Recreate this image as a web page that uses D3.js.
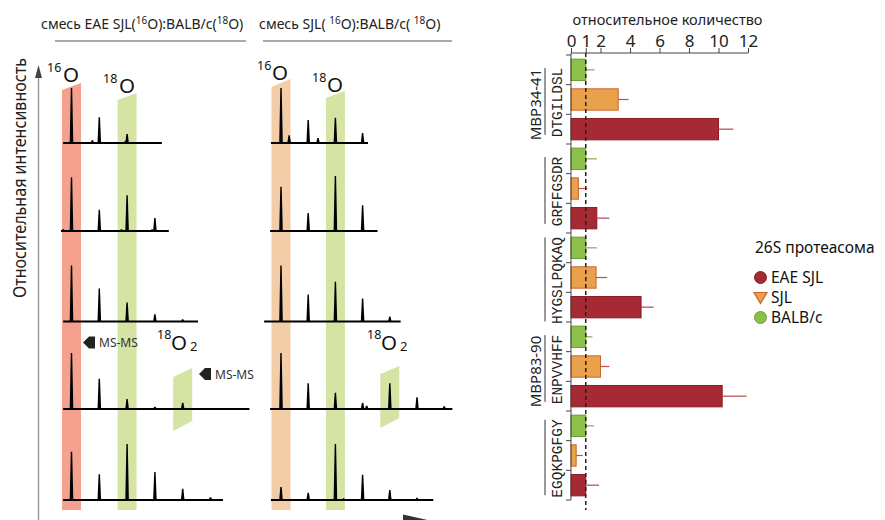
<!DOCTYPE html>
<html><head><meta charset="utf-8">
<script src="https://cdn.jsdelivr.net/npm/d3@7"></script>
<style>body{margin:0;background:#fff} svg{display:block;font-family:"Noto Sans",sans-serif}</style>
</head><body><svg id="c" width="885" height="520"></svg>
<script>
// ---------------- DATA ----------------
// Bar chart (relative quantity)
const peptides = ["DTGILDSL", "GRFFGSDR", "HYGSLPQKAQ", "ENPVVHFF", "EGQKPGFGY"];
const seriesNames = ["BALB/c", "SJL", "EAE SJL"];
const balbValues = [1.0, 1.0, 1.0, 1.0, 1.0];
const balbErr    = [0.6, 0.75, 0.75, 0.45, 0.55];
const sjlValues  = [3.2, 0.5, 1.7, 2.0, 0.35];
const sjlErr     = [0.7, 0.6, 0.75, 0.6, 0.45];
const eaeValues  = [10.0, 1.75, 4.75, 10.25, 1.0];
const eaeErr     = [1.0, 0.85, 0.85, 1.65, 0.9];
const xTickValues = [0, 1, 2, 4, 6, 8, 10, 12];
const mbpLabels = ["MBP34-41", "", "", "MBP83-90", ""];
const legendTitle = "26S протеасома";
const legendItems = ["EAE SJL", "SJL", "BALB/c"];

// Mass spectra: [isotope peak position, relative intensity]
const eaeMixPeaks = [
  [[0, 98], [0.75, 5], [1, 46], [2, 16], [1.95, 4]],
  [[0, 96], [1, 38], [2, 64], [3, 23], [-0.3, 3], [1.8, 3], [2.9, 3]],
  [[0, 100], [1, 59], [2, 34], [3, 13], [4, 4]],
  [[0, 100], [1, 54], [2, 18], [3, 4], [4, 11]],
  [[0, 86], [1, 46], [2, 100], [3, 50], [4, 20], [5, 5]]
];
const eaeMixExtent = [[-0.3, 3.25], [-0.38, 3.5], [-0.3, 4.55], [-0.3, 6.4], [-0.3, 5.45]];
const sjlMixPeaks = [
  [[0, 98], [0.3, 14], [1, 41], [1.36, 9], [2, 45], [3, 18]],
  [[0, 79], [1, 32], [2, 98], [3, 46]],
  [[0, 100], [1, 48], [2, 71], [3, 41], [4, 9]],
  [[0, 100], [1, 46], [2, 29], [3, 11], [3.15, 6], [4, 46], [5, 21], [6, 5]],
  [[0, 23], [1, 13], [2, 100], [2.3, 3], [3, 45], [4, 18], [5, 4]]
];
const sjlMixExtent = [[-0.37, 3.2], [-0.4, 3.55], [-0.62, 4.4], [-0.4, 6.3], [-0.37, 5.6]];
const spectraTitles = [
  [["смесь EAE SJL(", 0], ["16", 1], ["O):BALB/c(", 0], ["18", 1], ["O)", 0]],
  [["смесь SJL( ", 0], ["16", 1], ["O):BALB/c( ", 0], ["18", 1], ["O)", 0]]
];
const yAxisLabel = "Относительная интенсивность";
const barAxisTitle = "относительное количество";

// ---------------- DRAW ----------------
const svg = d3.select("#c");

// ===== Spectra =====
const rowBase = [143, 231, 321.5, 409, 500];
const intens = d3.scaleLinear().domain([0, 100]).range([0, 56]);

const panels = [
  {peaks: eaeMixPeaks, ext: eaeMixExtent, x: d3.scaleLinear().domain([0, 6]).range([71.5, 71.5 + 27.8 * 6]),
   band16: "#f4a18d", tops16: [90, 83], tops18: [100, 93], title: spectraTitles[0], tx: 41, ul: [55, 246],
   lab16: [47, 82, 64], lab18: [103, 93, 120], o2: [157, 350], para: [377, 368, 431, 421],
   ms: [[83, 342.5], [199, 374]]},
  {peaks: sjlMixPeaks, ext: sjlMixExtent, x: d3.scaleLinear().domain([0, 6]).range([281, 281 + 27.2 * 6]),
   band16: "#f3cda7", tops16: [87, 79], tops18: [98, 91], title: spectraTitles[1], tx: 259, ul: [263, 452],
   lab16: [257, 80, 273], lab18: [312, 92, 328], o2: [367, 350], para: [374, 366, 428, 418],
   ms: []}
];
const green = "#d5e4a3";
const halfW = 9.5;
const bandBottom = 510;

panels.forEach(p => {
  const g = svg.append("g");
  const bx0 = p.x(0), bx2 = p.x(2);
  g.append("path").attr("fill", p.band16)
    .attr("d", `M${bx0 - halfW},${p.tops16[0]}L${bx0 + halfW},${p.tops16[1]}L${bx0 + halfW},${bandBottom}L${bx0 - halfW},${bandBottom}Z`);
  g.append("path").attr("fill", green)
    .attr("d", `M${bx2 - halfW},${p.tops18[0]}L${bx2 + halfW},${p.tops18[1]}L${bx2 + halfW},${bandBottom}L${bx2 - halfW},${bandBottom}Z`);
  const bx4 = p.x(4);
  g.append("path").attr("fill", green)
    .attr("d", `M${bx4 - halfW},${p.para[0]}L${bx4 + halfW},${p.para[1]}L${bx4 + halfW},${p.para[3]}L${bx4 - halfW},${p.para[2]}Z`);

  p.peaks.forEach((row, ri) => {
    const yb = rowBase[ri];
    g.append("line").attr("x1", p.x(p.ext[ri][0])).attr("x2", p.x(p.ext[ri][1]))
      .attr("y1", yb).attr("y2", yb).attr("stroke", "#000").attr("stroke-width", 2);
    g.selectAll(null).data(row).join("path")
      .attr("fill", "#000")
      .attr("d", d => {
        const cx = p.x(d[0]), top = yb - intens(d[1]);
        return `M${cx - 1.8},${yb}L${cx - 0.7},${top}L${cx + 0.7},${top}L${cx + 1.8},${yb}Z`;
      });
  });

  const t = svg.append("text").attr("x", p.tx).attr("y", 29).attr("font-size", 14).attr("fill", "#222");
  p.title.forEach(([s, sup], i) => {
    t.append("tspan").text(s).attr("font-size", sup ? 10 : 14).attr("dy", sup ? -5 : (i === 0 ? 0 : 5));
  });
  svg.append("line").attr("x1", p.ul[0]).attr("x2", p.ul[1]).attr("y1", 41).attr("y2", 41)
    .attr("stroke", "#555").attr("stroke-width", 1);

  const iso = (sx, by, ox, sup) => {
    svg.append("text").attr("x", sx).attr("y", by - 10).attr("font-size", 12.5).attr("fill", "#111").text(sup);
    svg.append("text").attr("x", ox - 1).attr("y", by).attr("font-size", 20.5).attr("fill", "#111").text("O");
  };
  iso(p.lab16[0], p.lab16[1], p.lab16[2], "16");
  iso(p.lab18[0], p.lab18[1], p.lab18[2], "18");
  svg.append("text").attr("x", p.o2[0]).attr("y", p.o2[1] - 11).attr("font-size", 12.5).attr("fill", "#111").text("18");
  svg.append("text").attr("x", p.o2[0] + 14).attr("y", p.o2[1]).attr("font-size", 20.5).attr("fill", "#111").text("O");
  svg.append("text").attr("x", p.o2[0] + 33).attr("y", p.o2[1] + 1).attr("font-size", 13).attr("fill", "#111").text("2");

  p.ms.forEach(([ax, ay]) => {
    svg.append("path").attr("fill", "#222")
      .attr("d", `M${ax},${ay}L${ax + 6},${ay - 6}L${ax + 12},${ay - 6}L${ax + 12},${ay + 6}L${ax + 6},${ay + 6}Z`);
    svg.append("text").attr("x", ax + 16).attr("y", ay + 4.5).attr("font-size", 12).attr("fill", "#333").text("MS-MS");
  });
});

// spectra y-axis arrow
svg.append("line").attr("x1", 38.5).attr("x2", 38.5).attr("y1", 75).attr("y2", 520).attr("stroke", "#9a9a9a").attr("stroke-width", 1.5);
svg.append("path").attr("fill", "#444").attr("d", "M38.5,65L35,78L42,78Z");
svg.append("path").attr("fill", "#333").attr("d", "M403,514.5L432,521L403,521Z");
svg.append("text").attr("transform", "translate(25.5,298) rotate(-90)").attr("font-size", 17.5)
  .attr("textLength", 240).attr("lengthAdjust", "spacingAndGlyphs")
  .attr("fill", "#222").text(yAxisLabel);

// ===== Bar chart =====
const xB = d3.scaleLinear().domain([0, 12]).range([571, 748]);
const nBars = peptides.length * seriesNames.length;
const yB = d3.scaleBand().domain(d3.range(nBars)).range([55, 500]).paddingInner(0.28).paddingOuter(0.14);
const styles = {
  "BALB/c": {fill: "#8dc04a", stroke: "#6a9e33", err: "#7fae4a"},
  "SJL": {fill: "#e9a14b", stroke: "#c9652d", err: "#c0504a"},
  "EAE SJL": {fill: "#a52a33", stroke: "#8a1d25", err: "#b8454b"}
};
const seriesVals = {"BALB/c": [balbValues, balbErr], "SJL": [sjlValues, sjlErr], "EAE SJL": [eaeValues, eaeErr]};
const barData = [];
peptides.forEach((pep, pi) => seriesNames.forEach((s, si) => {
  barData.push({idx: pi * 3 + si, s, v: seriesVals[s][0][pi], e: seriesVals[s][1][pi]});
}));

const bg = svg.append("g");
bg.selectAll("rect").data(barData).join("rect")
  .attr("x", xB(0)).attr("y", d => yB(d.idx))
  .attr("width", d => xB(d.v) - xB(0)).attr("height", yB.bandwidth())
  .attr("fill", d => styles[d.s].fill).attr("stroke", d => styles[d.s].stroke).attr("stroke-width", 1);
bg.selectAll("line.err").data(barData).join("line").attr("class", "err")
  .attr("x1", d => xB(d.v)).attr("x2", d => xB(d.v + d.e))
  .attr("y1", d => yB(d.idx) + yB.bandwidth() / 2).attr("y2", d => yB(d.idx) + yB.bandwidth() / 2)
  .attr("stroke", d => styles[d.s].err).attr("stroke-width", 1.2);

const axG = svg.append("g").attr("transform", "translate(0,53)")
  .call(d3.axisTop(xB).tickValues(xTickValues).tickSize(5).tickPadding(1).tickFormat(d3.format("d")));
axG.select(".domain").attr("stroke", "#444").attr("d", `M${xB(0)},0H${xB(12)}`);
axG.selectAll(".tick line").attr("stroke", "#444");
axG.selectAll(".tick text").attr("font-size", 17).attr("font-family", "Noto Sans").attr("fill", "#222");
svg.append("text").attr("x", (xB(0) + xB(12)) / 2 + 8).attr("y", 25).attr("text-anchor", "middle")
  .attr("font-size", 14.5).attr("fill", "#222").text(barAxisTitle);

const gap = yB.step() - yB.bandwidth();
svg.append("line").attr("x1", xB(0)).attr("x2", xB(0)).attr("y1", 53).attr("y2", 500).attr("stroke", "#444");
const bounds = d3.range(nBars + 1).map(i => i < nBars ? yB(i) - gap / 2 : yB(nBars - 1) + yB.bandwidth() + gap / 2);
svg.selectAll("line.ytk").data(bounds).join("line").attr("class", "ytk")
  .attr("x1", xB(0) - 5).attr("x2", xB(0)).attr("y1", d => d).attr("y2", d => d).attr("stroke", "#444");

svg.append("line").attr("x1", xB(1)).attr("x2", xB(1)).attr("y1", 53).attr("y2", 510)
  .attr("stroke", "#222").attr("stroke-width", 1.5).attr("stroke-dasharray", "4,3");

peptides.forEach((pep, pi) => {
  const cy = (yB(pi * 3) + yB(pi * 3 + 2) + yB.bandwidth()) / 2 + 3;
  svg.append("text").attr("transform", `translate(562,${cy}) rotate(-90)`).attr("text-anchor", "middle")
    .attr("font-family", "Liberation Mono, monospace").attr("font-size", 14.5).attr("fill", "#222").text(pep);
  const half = pep.length * 8.6 / 2;
  svg.append("line").attr("x1", 545).attr("x2", 545).attr("y1", cy - half).attr("y2", cy + half - 2)
    .attr("stroke", "#333").attr("stroke-width", 1);
  if (mbpLabels[pi]) {
    svg.append("text").attr("transform", `translate(541,${cy + 2}) rotate(-90)`).attr("text-anchor", "middle")
      .attr("font-size", 15).attr("fill", "#222").text(mbpLabels[pi]);
  }
});

svg.append("text").attr("x", 755).attr("y", 253).attr("font-size", 15.5).attr("fill", "#111").text(legendTitle);
const legY = [283, 303, 323];
legendItems.forEach((name, i) => {
  const st = styles[name];
  const cy = legY[i] - 5.5;
  if (name === "SJL") {
    svg.append("path").attr("d", `M754,${cy - 5}L767,${cy - 5}L760.5,${cy + 6}Z`).attr("fill", st.fill).attr("stroke", st.stroke).attr("stroke-width", 1.2);
  } else {
    svg.append("circle").attr("cx", 760.5).attr("cy", cy).attr("r", 6).attr("fill", st.fill).attr("stroke", st.stroke).attr("stroke-width", 1);
  }
  svg.append("text").attr("x", 771).attr("y", legY[i]).attr("font-size", 15.5).attr("fill", "#111").text(name);
});
</script></body></html>
